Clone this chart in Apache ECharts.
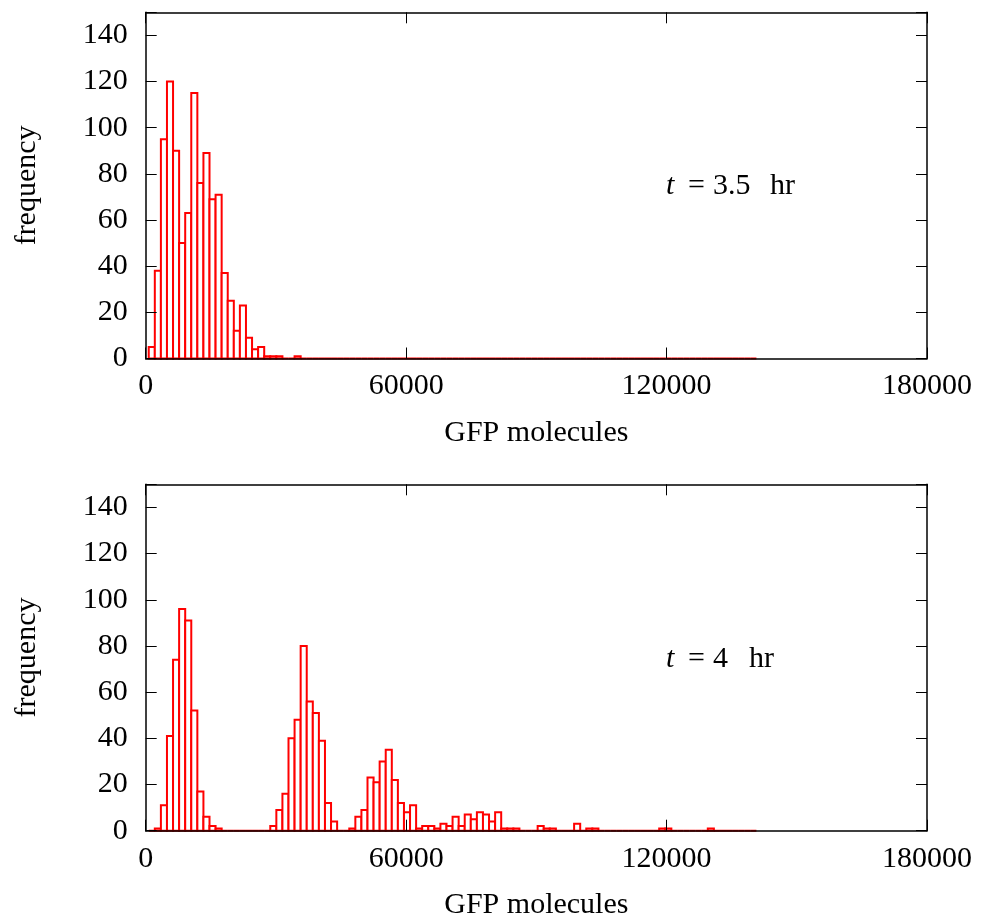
<!DOCTYPE html>
<html><head><meta charset="utf-8">
<script src="https://cdn.jsdelivr.net/npm/echarts@6/dist/echarts.min.js"></script>
<style>html,body{margin:0;padding:0;background:#fff}#c{width:982px;height:917px}</style>
</head><body><div id="c"></div>
<script>
// Histogram bins: bin k spans [BIN_START + k*BIN_WIDTH, BIN_START + (k+1)*BIN_WIDTH]
const BIN_START = 700;
const BIN_WIDTH = 1400;
const xTicks = [0, 60000, 120000, 180000];
const yTicks = [0, 20, 40, 60, 80, 100, 120, 140];
const xTitle = 'GFP molecules';
const yTitle = 'frequency';

// t = 3.5 hr
const countsT35 = [
  5, 38, 95, 120, 90, 50, 63, 115, 76, 89,
  69, 71, 37, 25, 12, 23, 9, 4, 5, 1,
  1, 1, 0, 0, 1, 0, 0, 0, 0, 0,
  0, 0, 0, 0, 0, 0, 0, 0, 0, 0,
  0, 0, 0, 0, 0, 0, 0, 0, 0, 0,
  0, 0, 0, 0, 0, 0, 0, 0, 0, 0,
  0, 0, 0, 0, 0, 0, 0, 0, 0, 0,
  0, 0, 0, 0, 0, 0, 0, 0, 0, 0,
  0, 0, 0, 0, 0, 0, 0, 0, 0, 0,
  0, 0, 0, 0, 0, 0, 0, 0, 0, 0
];
// t = 4 hr
const countsT4 = [
  0, 1, 11, 41, 74, 96, 91, 52, 17, 6,
  2, 1, 0, 0, 0, 0, 0, 0, 0, 0,
  2, 9, 16, 40, 48, 80, 56, 51, 39, 12,
  4, 0, 0, 1, 6, 9, 23, 21, 30, 35,
  22, 12, 8, 11, 1, 2, 2, 1, 3, 2,
  6, 2, 7, 5, 8, 7, 4, 8, 1, 1,
  1, 0, 0, 0, 2, 1, 1, 0, 0, 0,
  3, 0, 1, 1, 0, 0, 0, 0, 0, 0,
  0, 0, 0, 0, 1, 1, 0, 0, 0, 0,
  0, 0, 1, 0, 0, 0, 0, 0, 0, 0
];

const FONT = '"Liberation Serif", "Times New Roman", serif';
const FS = 30;

function toBins(counts) {
  return counts.map((c, k) => [BIN_START + k * BIN_WIDTH, BIN_START + (k + 1) * BIN_WIDTH, c]);
}

const chart = echarts.init(document.getElementById('c'), null, {renderer: 'canvas'});

const grids = [
  {left: 145.7, right: 55, top: 12.3, height: 346.2},
  {left: 145.7, right: 55, top: 484.3, height: 346.4}
];

const xAxes = [], yAxes = [];
grids.forEach((g, i) => {
  const common = {
    gridIndex: i, type: 'value', min: 0, max: 180000, interval: 60000,
    splitLine: {show: false},
    axisLine: {show: true, onZero: false, lineStyle: {color: '#000', width: 1.5}},
    axisTick: {show: true, inside: true, length: 11, lineStyle: {color: '#000', width: 1}},
    z: 5
  };
  xAxes.push(Object.assign({}, common, {
    position: 'bottom',
    axisLabel: {show: true, margin: 13, color: '#000', fontFamily: FONT, fontSize: FS,
      formatter: v => (xTicks.indexOf(v) >= 0 ? String(v) : '')}
  }));
  xAxes.push(Object.assign({}, common, {position: 'top', axisLabel: {show: false}}));
  const ycommon = {
    gridIndex: i, type: 'value', min: 0, max: 150, interval: 20,
    splitLine: {show: false},
    axisLine: {show: true, onZero: false, lineStyle: {color: '#000', width: 1.5}},
    axisTick: {show: true, inside: true, length: 11, lineStyle: {color: '#000', width: 1}},
    z: 5
  };
  yAxes.push(Object.assign({}, ycommon, {
    position: 'left',
    axisLabel: {show: true, margin: 18, color: '#000', fontFamily: FONT, fontSize: FS,
      formatter: v => (yTicks.indexOf(v) >= 0 ? String(v) : '')}
  }));
  yAxes.push(Object.assign({}, ycommon, {position: 'right', axisLabel: {show: false}}));
});

function renderBar(params, api) {
  const p0 = api.coord([api.value(0), 0]);
  const p1 = api.coord([api.value(1), api.value(2)]);
  return {
    type: 'rect',
    shape: {x: p0[0], y: p1[1], width: p1[0] - p0[0], height: p0[1] - p1[1]},
    style: {fill: '#fff', stroke: '#ff0000', lineWidth: 2}
  };
}

const series = [countsT35, countsT4].map((counts, i) => ({
  type: 'custom',
  xAxisIndex: i * 2, yAxisIndex: i * 2,
  data: toBins(counts),
  renderItem: renderBar,
  silent: true,
  animation: false,
  z: 2
}));

function mathLabel(y, parts) {
  return parts.map(p => ({
    type: 'text', left: p[0], top: y,
    style: {text: p[1], fontFamily: FONT, fontSize: FS, fontStyle: p[2] || 'normal', fill: '#000'}
  }));
}

const centerX = 145.7 + (982 - 55 - 145.7) / 2;
const graphic = [
  {type: 'text', x: 27, y: 185.4, rotation: Math.PI / 2,
   style: {text: yTitle, fontFamily: FONT, fontSize: FS, fill: '#000', align: 'center', verticalAlign: 'middle'}},
  {type: 'text', x: 27, y: 657.5, rotation: Math.PI / 2,
   style: {text: yTitle, fontFamily: FONT, fontSize: FS, fill: '#000', align: 'center', verticalAlign: 'middle'}},
  {type: 'text', x: centerX, y: 433,
   style: {text: xTitle, fontFamily: FONT, fontSize: FS, fill: '#000', align: 'center', verticalAlign: 'middle'}},
  {type: 'text', x: centerX, y: 905,
   style: {text: xTitle, fontFamily: FONT, fontSize: FS, fill: '#000', align: 'center', verticalAlign: 'middle'}}
].concat(
  mathLabel(171, [[666, 't', 'italic'], [688, '='], [713, '3.5'], [770, 'hr']]),
  mathLabel(644, [[666, 't', 'italic'], [688, '='], [713, '4'], [749, 'hr']])
);

chart.setOption({
  animation: false,
  backgroundColor: '#fff',
  grid: grids,
  xAxis: xAxes,
  yAxis: yAxes,
  series: series,
  graphic: graphic
});
</script>
</body></html>
